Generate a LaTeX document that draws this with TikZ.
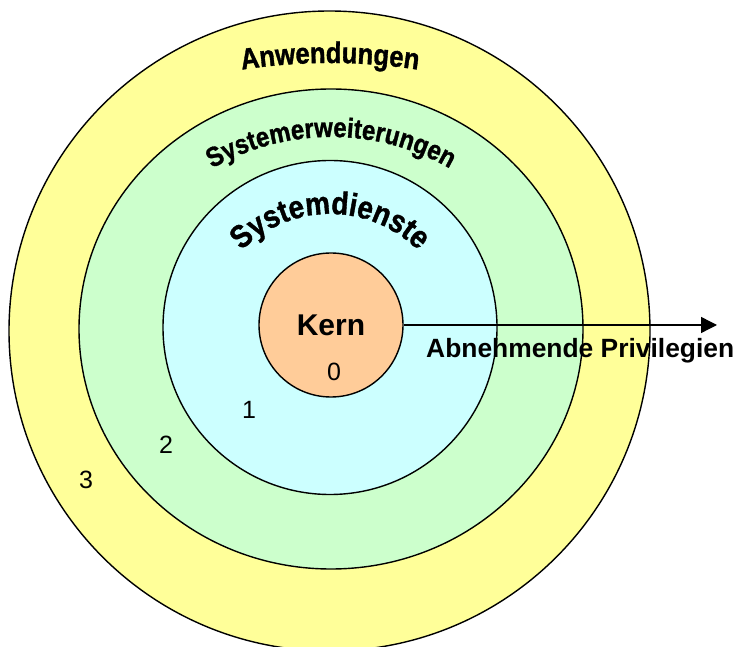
\documentclass[tikz,border=0pt]{standalone}
\usepackage{fontspec}
\setmainfont{Liberation Sans}
% heavy, slightly condensed face for the ring names
\newfontfamily\wordart[FakeBold=1.2, FakeStretch=0.87]{Liberation Sans Bold}
\usetikzlibrary{arrows.meta,decorations.text}
\definecolor{ringapp}{HTML}{FFFF99}
\definecolor{ringext}{HTML}{CCFFCC}
\definecolor{ringsvc}{HTML}{CCFFFF}
\definecolor{ringcore}{HTML}{FFCC99}
\tikzset{
  ring/.style={draw=black, line width=1.4pt},
  levelnum/.style={anchor=base, inner sep=0pt, font=\fontsize{25}{30}\selectfont},
}
\begin{document}
\begin{tikzpicture}[x=1pt,y=1pt]
\useasboundingbox (0,0) rectangle (737,646);
\fill[white] (0,0) rectangle (737,646);

% privilege rings, outermost first
\begin{scope}
  \clip (0,0) rectangle (737,646);
  \draw[ring, fill=ringapp] (329.5,315) ellipse [x radius=320.5, y radius=320];
  \draw[ring, fill=ringext] (331,317) ellipse [x radius=252, y radius=240];
  \draw[ring, fill=ringsvc] (330,318.5) circle [radius=167];
\end{scope}
\node[ring, circle, fill=ringcore, minimum size=144pt, inner sep=0pt] (kern) at (331,321) {};

% ring names set along arcs
\path[decorate, decoration={text along path, text align=center,
  text={|\fontsize{29.5}{34}\wordart|Anwendungen}}]
  ([shift={(110:585)}]330,-2) arc[start angle=110, end angle=70, radius=585];
\path[decorate, decoration={text along path, text align=center,
  text={|\fontsize{27.5}{32}\wordart|Systemerweiterungen}}]
  ([shift={(150:240)}]331,269) arc[start angle=150, end angle=30, radius=240];
\path[decorate, decoration={text along path, text align=center,
  text={|\fontsize{32}{36}\wordart|Systemdienste}}]
  ([shift={(170:125)}]330,307) arc[start angle=170, end angle=10, radius=125];

% kernel label and level numbers
\node[anchor=base, inner sep=0pt, font=\fontsize{30}{36}\selectfont\bfseries] (kernlabel) at (331,310) {Kern};
\node[levelnum] (lvl0) at (334,265) {0};
\node[levelnum] (lvl1) at (249,227) {1};
\node[levelnum] (lvl2) at (166,192) {2};
\node[levelnum] (lvl3) at (86,157) {3};

% privilege axis
\coordinate (tip) at (717,321);
\draw[line width=1.4pt, -{Triangle[length=16pt,width=16pt]}] (kern.east) -- (tip);
\node[anchor=base west, inner sep=0pt, font=\fontsize{26.4}{31}\selectfont\bfseries] (privlabel) at (426,288) {Abnehmende Privilegien};
\end{tikzpicture}
\end{document}
